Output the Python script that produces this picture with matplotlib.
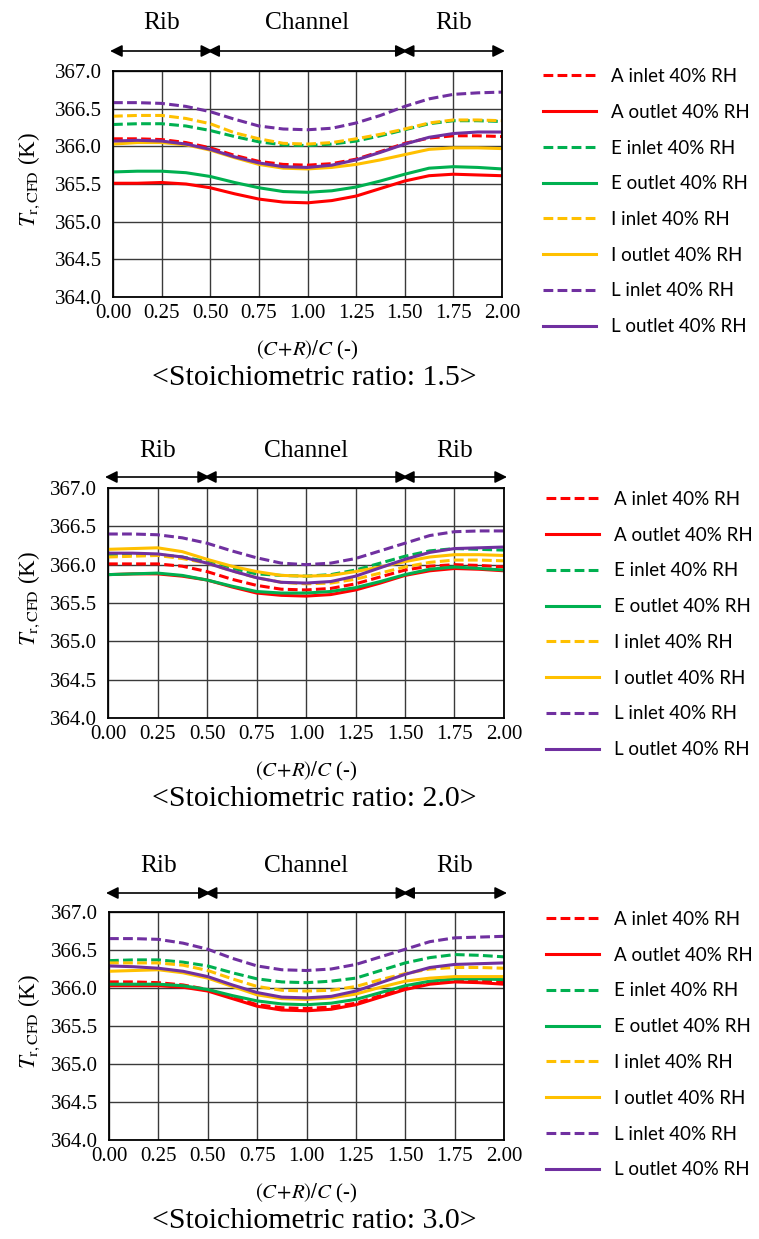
import numpy as np
import matplotlib.pyplot as plt

plt.rcParams['font.family'] = 'Liberation Serif'
plt.rcParams['mathtext.fontset'] = 'stix'

# x positions, (C+R)/C
x = [0, 0.125, 0.25, 0.375, 0.5, 0.625, 0.75, 0.875, 1.0,
     1.125, 1.25, 1.375, 1.5, 1.625, 1.75, 1.875, 2.0]

xticks = [0, 0.25, 0.5, 0.75, 1.0, 1.25, 1.5, 1.75, 2.0]
xticklabels = ['0.00', '0.25', '0.50', '0.75', '1.00', '1.25', '1.50', '1.75', '2.00']
yticks = [364.0, 364.5, 365.0, 365.5, 366.0, 366.5, 367.0]

# region markers above each plot
regions = [(0.0, 0.5, 'Rib'), (0.5, 1.5, 'Channel'), (1.5, 2.0, 'Rib')]

# stoichiometric ratio 1.5
a_in_15 = [366.10, 366.10, 366.09, 366.05, 365.98, 365.88, 365.80, 365.76, 365.75,
           365.77, 365.83, 365.93, 366.04, 366.11, 366.14, 366.14, 366.13]
a_out_15 = [365.51, 365.51, 365.52, 365.50, 365.45, 365.37, 365.30, 365.26, 365.25,
            365.28, 365.34, 365.44, 365.54, 365.61, 365.63, 365.62, 365.61]
e_in_15 = [366.29, 366.30, 366.30, 366.27, 366.21, 366.13, 366.06, 366.02, 366.01,
           366.03, 366.07, 366.14, 366.22, 366.30, 366.34, 366.34, 366.33]
e_out_15 = [365.66, 365.67, 365.67, 365.65, 365.60, 365.52, 365.45, 365.40, 365.39,
            365.41, 365.46, 365.54, 365.63, 365.71, 365.73, 365.72, 365.70]
i_in_15 = [366.40, 366.41, 366.41, 366.37, 366.30, 366.18, 366.10, 366.04, 366.03,
           366.05, 366.10, 366.16, 366.23, 366.31, 366.35, 366.35, 366.34]
i_out_15 = [366.03, 366.05, 366.05, 366.02, 365.95, 365.85, 365.76, 365.71, 365.70,
            365.72, 365.76, 365.82, 365.89, 365.96, 365.98, 365.98, 365.97]
l_in_15 = [366.58, 366.58, 366.57, 366.53, 366.46, 366.36, 366.27, 366.23, 366.22,
           366.24, 366.31, 366.41, 366.53, 366.63, 366.69, 366.71, 366.72]
l_out_15 = [366.07, 366.08, 366.07, 366.03, 365.96, 365.86, 365.78, 365.73, 365.72,
            365.75, 365.82, 365.92, 366.03, 366.12, 366.17, 366.19, 366.19]

# stoichiometric ratio 2.0
a_in_20 = [366.01, 366.01, 366.01, 365.98, 365.91, 365.81, 365.73, 365.68, 365.67,
           365.69, 365.75, 365.84, 365.93, 365.98, 366.00, 365.99, 365.97]
a_out_20 = [365.87, 365.88, 365.88, 365.85, 365.80, 365.71, 365.63, 365.60, 365.59,
            365.61, 365.67, 365.76, 365.86, 365.92, 365.95, 365.94, 365.92]
e_in_20 = [366.12, 366.13, 366.13, 366.10, 366.04, 365.95, 365.88, 365.86, 365.85,
           365.87, 365.93, 366.02, 366.11, 366.18, 366.21, 366.20, 366.19]
e_out_20 = [365.87, 365.88, 365.89, 365.86, 365.80, 365.72, 365.65, 365.63, 365.63,
            365.65, 365.70, 365.78, 365.87, 365.94, 365.97, 365.95, 365.93]
i_in_20 = [366.10, 366.11, 366.12, 366.08, 366.02, 365.92, 365.83, 365.77, 365.75,
           365.76, 365.81, 365.89, 365.97, 366.03, 366.06, 366.06, 366.05]
i_out_20 = [366.20, 366.21, 366.22, 366.17, 366.07, 365.98, 365.91, 365.86, 365.85,
            365.86, 365.91, 365.97, 366.04, 366.10, 366.13, 366.13, 366.12]
l_in_20 = [366.40, 366.40, 366.39, 366.35, 366.28, 366.18, 366.09, 366.02, 366.00,
           366.02, 366.08, 366.18, 366.28, 366.38, 366.43, 366.44, 366.44]
l_out_20 = [366.15, 366.15, 366.14, 366.10, 366.02, 365.92, 365.83, 365.77, 365.76,
            365.78, 365.85, 365.96, 366.07, 366.16, 366.21, 366.22, 366.23]

# stoichiometric ratio 3.0
a_in_30 = [366.08, 366.08, 366.07, 366.04, 365.98, 365.88, 365.78, 365.74, 365.73,
           365.75, 365.80, 365.90, 366.00, 366.07, 366.10, 366.09, 366.08]
a_out_30 = [366.03, 366.03, 366.03, 366.01, 365.96, 365.86, 365.76, 365.71, 365.70,
            365.72, 365.78, 365.88, 365.98, 366.05, 366.08, 366.07, 366.05]
e_in_30 = [366.36, 366.37, 366.37, 366.34, 366.29, 366.20, 366.12, 366.08, 366.07,
           366.09, 366.13, 366.23, 366.33, 366.40, 366.44, 366.43, 366.41]
e_out_30 = [366.05, 366.05, 366.05, 366.03, 365.98, 365.90, 365.83, 365.79, 365.78,
            365.80, 365.85, 365.94, 366.03, 366.09, 366.12, 366.12, 366.11]
i_in_30 = [366.33, 366.33, 366.33, 366.30, 366.23, 366.12, 366.02, 365.97, 365.96,
           365.97, 366.02, 366.11, 366.19, 366.25, 366.27, 366.27, 366.26]
i_out_30 = [366.22, 366.23, 366.24, 366.20, 366.13, 366.02, 365.91, 365.86, 365.85,
            365.87, 365.92, 366.01, 366.09, 366.13, 366.15, 366.15, 366.15]
l_in_30 = [366.65, 366.65, 366.64, 366.59, 366.51, 366.39, 366.29, 366.24, 366.23,
           366.25, 366.31, 366.41, 366.51, 366.61, 366.66, 366.67, 366.68]
l_out_30 = [366.29, 366.28, 366.26, 366.22, 366.15, 366.04, 365.94, 365.88, 365.87,
            365.89, 365.96, 366.07, 366.18, 366.27, 366.31, 366.32, 366.33]

labels = ['A inlet 40% RH', 'A outlet 40% RH', 'E inlet 40% RH', 'E outlet 40% RH',
          'I inlet 40% RH', 'I outlet 40% RH', 'L inlet 40% RH', 'L outlet 40% RH']
colors = ['#FF0000', '#FF0000', '#00B050', '#00B050',
          '#FFC000', '#FFC000', '#7030A0', '#7030A0']

panels = [
    ('1.5', [a_in_15, a_out_15, e_in_15, e_out_15, i_in_15, i_out_15, l_in_15, l_out_15]),
    ('2.0', [a_in_20, a_out_20, e_in_20, e_out_20, i_in_20, i_out_20, l_in_20, l_out_20]),
    ('3.0', [a_in_30, a_out_30, e_in_30, e_out_30, i_in_30, i_out_30, l_in_30, l_out_30]),
]

W, H = 759, 1239
# axes boxes in pixels: left, top, right, bottom
boxes = [(113, 71, 502, 297), (108, 488, 504, 718), (109, 912, 504, 1140)]
# pixel gaps above the axes: arrow row, region text
arrow_gap = [20, 11, 19]
text_gap = [48, 37, 46]
legend_pos = [(543, 68), (546, 491), (546, 911)]
caption_x = 314

fig = plt.figure(figsize=(W / 100, H / 100), dpi=100)

for i, ((ratio, series), (l, t, r, b)) in enumerate(zip(panels, boxes)):
    ax = fig.add_axes([l / W, 1 - b / H, (r - l) / W, (b - t) / H])
    for k, vals in enumerate(series):
        if k % 2 == 0:
            ax.plot(x, vals, color=colors[k], lw=2.2, dashes=(3.2, 1.4), label=labels[k])
        else:
            ax.plot(x, vals, color=colors[k], lw=2.2, label=labels[k])
    ax.set_xlim(0, 2)
    ax.set_ylim(364, 367)
    ax.set_xticks(xticks)
    ax.set_xticklabels(xticklabels)
    ax.set_yticks(yticks)
    ax.set_yticklabels(['%.1f' % v for v in yticks])
    ax.grid(True, color='#3a3a3a', lw=1.0)
    ax.set_axisbelow(True)
    ax.tick_params(length=0, labelsize=15)
    ax.tick_params(axis='x', pad=5)
    ax.tick_params(axis='y', pad=8)
    for s in ax.spines.values():
        s.set_linewidth(1.3)

    ph = b - t
    ax.set_ylabel(r'$T_{\mathrm{r,CFD}}$ (K)', fontsize=16.5)
    ax.yaxis.set_label_coords(-(l - 42) / (r - l), 0.52)
    ax.set_xlabel(r'$\mathit{(C\!+\!R)/C}$ (-)', fontsize=15, va='center')
    ax.xaxis.set_label_coords(0.5, -53 / ph)

    for x0, x1, name in regions:
        ax.annotate('', xy=(x0 - 0.015, 1 + arrow_gap[i] / ph),
                    xytext=(x1 + 0.015, 1 + arrow_gap[i] / ph),
                    xycoords=('data', 'axes fraction'), textcoords=('data', 'axes fraction'),
                    arrowprops=dict(arrowstyle='<|-|>', color='black', lw=1.2,
                                    mutation_scale=18, shrinkA=0, shrinkB=0))
        ax.text((x0 + x1) / 2, 1 + text_gap[i] / ph, name, transform=ax.get_xaxis_transform(),
                ha='center', va='center', fontsize=18.3)

    fig.text(caption_x / W, 1 - (b + 81) / H, '<Stoichiometric ratio: %s>' % ratio,
             ha='center', va='center', fontsize=21.5)

    lx, ly = legend_pos[i]
    ax.legend(loc='upper left', bbox_to_anchor=(lx / W, 1 - ly / H),
              bbox_transform=fig.transFigure, frameon=False,
              prop=dict(family='Lato', size=13.5), handlelength=2.83,
              handletextpad=0.8, labelspacing=1.0, borderpad=0, borderaxespad=0)

fig.savefig('out.png', dpi=100)
